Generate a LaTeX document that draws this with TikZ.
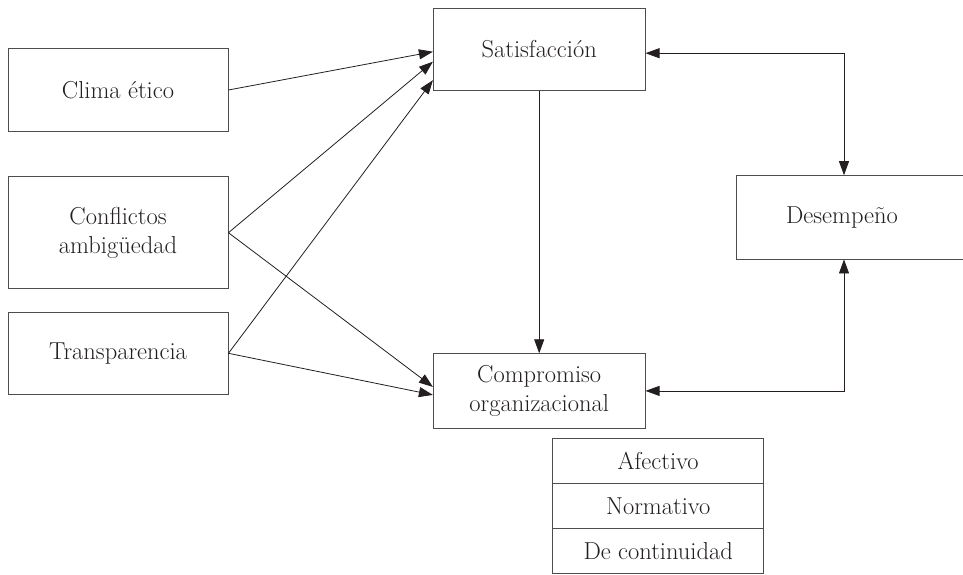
\documentclass[tikz,border=0pt]{standalone}
\usepackage{fontspec}
\setmainfont{Latin Modern Roman}
\usetikzlibrary{arrows.meta,positioning,calc}
\definecolor{ink}{HTML}{231F20}
\definecolor{frame}{HTML}{4D4D4D}
\begin{document}
\begin{tikzpicture}[x=1pt,y=-1pt,
  box/.style={draw=frame,line width=0.9pt,rectangle,inner sep=0pt,
    text=ink,align=center,font=\fontsize{24.5}{28.5}\selectfont},
  link/.style={draw=ink,line width=0.8pt,-{Triangle[length=14pt,width=10pt]}},
  both/.style={draw=ink,line width=0.8pt,{Triangle[length=14pt,width=10pt]}-{Triangle[length=14pt,width=10pt]}}]
\clip (0,0) rectangle (963,574);
\useasboundingbox (0,0) rectangle (963,574);

% antecedents
\node[box,minimum width=220pt,minimum height=82.7pt] (clima) at (118,90) {Clima ético};
\node[box,minimum width=220pt,minimum height=112pt] (conf) at (118,232.7) {Conflictos\\ambigüedad};
\node[box,minimum width=220pt,minimum height=82.7pt] (trans) at (118,353.3) {Transparencia};

% outcomes
\node[box,minimum width=211.7pt,minimum height=82.3pt] (sat) at (539.2,49.2) {Satisfacción};
\node[box,minimum width=211.7pt,minimum height=74.3pt] (comp) at (539.2,390.9) {Compromiso\\organizacional};
\node[box,minimum width=232pt,minimum height=83.3pt] (des) at (852,217.3) {\hspace*{-20pt}Desempeño};

% components of commitment
\node[box,minimum width=211pt,minimum height=45.3pt] (afe) at (658.2,460.7) {Afectivo};
\node[box,minimum width=211pt,minimum height=45.3pt] (nor) at (658.2,506) {Normativo};
\node[box,minimum width=211pt,minimum height=45.3pt] (con) at (658.2,551.2) {De continuidad};

% paths
\draw[link] (clima.east) -- ([yshift=-2.5pt]sat.west);
\draw[link] (conf.east) -- ([yshift=-12.5pt]sat.west);
\draw[link] (trans.east) -- ([yshift=-31pt]sat.west);
\draw[link] (conf.east) -- ([yshift=4pt]comp.west);
\draw[link] (trans.east) -- ([yshift=-4pt]comp.west);
\draw[link] (sat.south) -- (comp.north);
\draw[both] ([yshift=-4pt]sat.east) -| ([xshift=-8pt]des.north);
\draw[both] (comp.east) -| ([xshift=-8pt]des.south);
\end{tikzpicture}
\end{document}
